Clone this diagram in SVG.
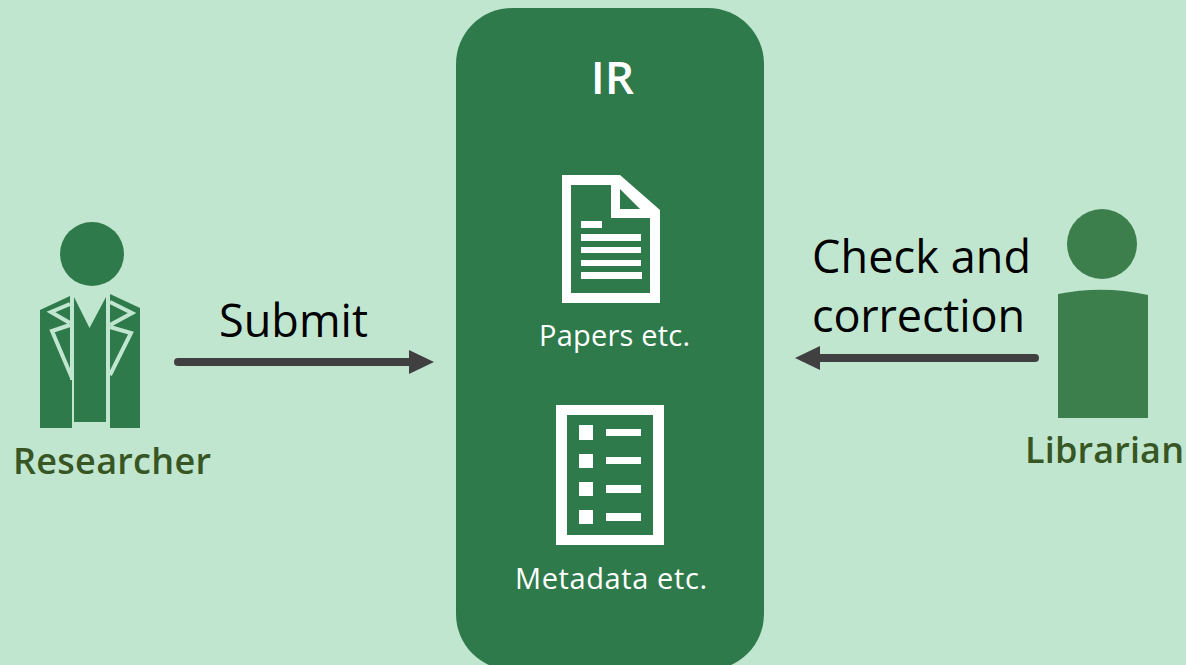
<svg xmlns="http://www.w3.org/2000/svg" width="1186" height="665" viewBox="0 0 1186 665">
<style>
text{font-family:"Open Sans","Noto Sans","Liberation Sans",sans-serif}
.b{font-size:45px;fill:#000}
.w{font-size:29px;fill:#fff}
.n{font-size:36px;font-weight:600;fill:#375623}
.j{fill:#2f7a4b}
.lap{fill:none;stroke:#c1e6cf;stroke-width:4}
.wf{fill:#fff}
.conn{stroke:#404040;stroke-width:8;stroke-linecap:round;fill:none}
</style>
<defs><marker id="ah" markerUnits="userSpaceOnUse" markerWidth="26" markerHeight="24" refX="1" refY="12" orient="auto"><path d="M0 0L25 12L0 24Z" fill="#404040"/></marker></defs>
<rect width="1186" height="665" fill="#c1e6cf"/>
<g id="ir">
<rect x="456" y="8" width="308" height="662" rx="56" fill="#2f7a4b"/>
<text x="612.500" y="94" text-anchor="middle" font-weight="600" fill="#fff" style="font-size:46px">IR</text>
</g>
<g id="papers">
<path class="wf" fill-rule="evenodd" d="M562 175H620L660 210V303H562ZM571 185V293H650V218H611V185ZM620 189V209H640Z"/>
<rect class="wf" x="581" y="221" width="21" height="7"/>
<rect class="wf" x="581" y="234" width="60" height="7"/>
<rect class="wf" x="581" y="247" width="60" height="6"/>
<rect class="wf" x="581" y="260" width="60" height="6"/>
<rect class="wf" x="581" y="272" width="61" height="7"/>
<text class="w" x="539" y="346" textLength="151">Papers etc.</text>
</g>
<g id="metadata">
<path class="wf" fill-rule="evenodd" d="M556 405H664V545H556ZM567 415V535H653V415Z"/>
<rect class="wf" x="579" y="425" width="14" height="15"/><rect class="wf" x="606" y="429" width="35" height="7"/>
<rect class="wf" x="579" y="454" width="14" height="14"/><rect class="wf" x="606" y="457" width="35" height="7"/>
<rect class="wf" x="579" y="482" width="14" height="14"/><rect class="wf" x="606" y="485" width="35" height="8"/>
<rect class="wf" x="579" y="510" width="14" height="14"/><rect class="wf" x="606" y="513" width="35" height="8"/>
<text class="w" x="515" y="589" textLength="192">Metadata etc.</text>
</g>
<g id="researcher">
<circle class="j" cx="92" cy="254" r="32"/>
<path class="j" d="M40 310L70 296V380L72 380V428H40Z"/>
<path class="j" d="M74 297L89.500 328L106 297V422H74Z"/>
<path class="j" d="M110 294L140 308V428H110Z"/>
<path class="lap" d="M70 304L51 312L70 323M70 325L52 331L72 378M110 302L132 313L110 325M110 327L131 333L110 375"/>
<text class="n" x="13" y="474" textLength="198">Researcher</text>
</g>
<g id="librarian">
<circle cx="1102" cy="244" r="35" fill="#3c7f4d"/>
<path d="M1058 294Q1103 285 1148 295V418H1058Z" fill="#3c7f4d"/>
<text class="n" x="1025" y="463" textLength="159">Librarian</text>
</g>
<g id="connectors">
<path class="conn" d="M178 362H410" marker-end="url(#ah)"/>
<path class="conn" d="M1035 358H819" marker-end="url(#ah)"/>
</g>
<g id="labels">
<text class="b" x="219" y="337" textLength="149">Submit</text>
<text class="b" x="812" y="273" textLength="219">Check and</text>
<text class="b" x="812" y="332" textLength="213">correction</text>
</g>
</svg>
